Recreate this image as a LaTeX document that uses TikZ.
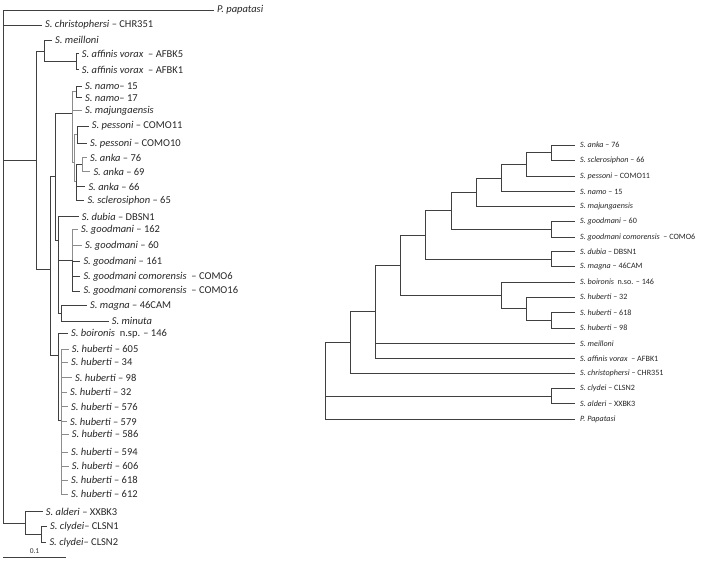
\documentclass[tikz,border=0pt]{standalone}
\usepackage{fontspec}
\setmainfont{Carlito}
\begin{document}
\begin{tikzpicture}[x=1pt, y=-1pt,
  br/.style={draw=black!75, line width=0.7pt},
  brg/.style={draw=black!45, line width=1pt},
  leaf/.style={anchor=west, inner xsep=3pt, inner ysep=1pt, text=black!85, font=\fontsize{10.5}{11}\selectfont},
  rleaf/.style={anchor=west, inner xsep=5pt, inner ysep=1pt, text=black!85, font=\fontsize{8.1}{9}\selectfont}]
  \useasboundingbox (0,0) rectangle (701,561);

  % Left tree: leaves
  \node[leaf] (pap) at (214,10) {\textit{P. papatasi}};
  \node[leaf] (chr) at (42,25) {\textit{S. christophersi} -- CHR351};
  \node[leaf] (mei) at (52,40) {\textit{S. meilloni}};
  \node[leaf] (afb5) at (78.7,53.5) {\textit{S. affinis vorax}~~-- AFBK5};
  \node[leaf] (afb1) at (78.7,69.5) {\textit{S. affinis vorax}~~-- AFBK1};
  \node[leaf] (nam15) at (82,86.5) {\textit{S. namo}-- 15};
  \node[leaf] (nam17) at (82,97.7) {\textit{S. namo}-- 17};
  \node[leaf] (maj) at (82,111) {\textit{S. majungaensis}};
  \node[leaf] (pes11) at (88.7,126) {\textit{S. pessoni} -- COMO11};
  \node[leaf] (pes10) at (87,143.3) {\textit{S. pessoni} -- COMO10};
  \node[leaf] (ank76) at (87,157.7) {\textit{S. anka} -- 76};
  \node[leaf] (ank69) at (90.3,171.7) {\textit{S. anka} -- 69};
  \node[leaf] (ank66) at (85.3,186.7) {\textit{S. anka} -- 66};
  \node[leaf] (scl65) at (84.3,200.7) {\textit{S. sclerosiphon} -- 65};
  \node[leaf] (dub) at (78.7,216.7) {\textit{S. dubia} -- DBSN1};
  \node[leaf] (goo162) at (78,229.3) {\textit{S. goodmani} -- 162};
  \node[leaf] (goo60) at (82,245.7) {\textit{S. goodmani} -- 60};
  \node[leaf] (goo161) at (80.3,261.7) {\textit{S. goodmani} -- 161};
  \node[leaf] (com6) at (80.3,276.7) {\textit{S. goodmani comorensis}~~-- COMO6};
  \node[leaf] (com16) at (80.3,291) {\textit{S. goodmani comorensis}~~-- COMO16};
  \node[leaf] (mag) at (87,305.7) {\textit{S. magna} -- 46CAM};
  \node[leaf] (min) at (108.7,321) {\textit{S. minuta}};
  \node[leaf] (boi) at (68,333.3) {\textit{S. boironis}~~n.sp. -- 146};
  \node[leaf] (hub605) at (68.7,349) {\textit{S. huberti} -- 605};
  \node[leaf] (hub34) at (68,362.3) {\textit{S. huberti} -- 34};
  \node[leaf] (hub98) at (72,377.7) {\textit{S. huberti} -- 98};
  \node[leaf] (hub32) at (67,392.3) {\textit{S. huberti} -- 32};
  \node[leaf] (hub576) at (68,406.7) {\textit{S. huberti} -- 576};
  \node[leaf] (hub579) at (67,421.7) {\textit{S. huberti} -- 579};
  \node[leaf] (hub586) at (68.7,434.3) {\textit{S. huberti} -- 586};
  \node[leaf] (hub594) at (68,452.3) {\textit{S. huberti} -- 594};
  \node[leaf] (hub606) at (68.7,466) {\textit{S. huberti} -- 606};
  \node[leaf] (hub618) at (68,480) {\textit{S. huberti} -- 618};
  \node[leaf] (hub612) at (68,494) {\textit{S. huberti} -- 612};
  \node[leaf] (ald) at (42.7,511.7) {\textit{S. alderi} -- XXBK3};
  \node[leaf] (cly1) at (47,526.7) {\textit{S. clydei}-- CLSN1};
  \node[leaf] (cly2) at (46.3,542.3) {\textit{S. clydei}-- CLSN2};

  % Left tree: inner nodes
  \coordinate (lR) at (3.3,268);
  \coordinate (lA) at (36.7,160);
  \coordinate (lB) at (44.3,51.7);
  \coordinate (lAF) at (76,61.7);
  \coordinate (lC) at (50,269.3);
  \coordinate (lD) at (55,176.7);
  \coordinate (lF) at (72.7,113.3);
  \coordinate (lN) at (76,92);
  \coordinate (lP) at (74.5,163);
  \coordinate (lPe) at (77,134.7);
  \coordinate (lAn) at (76.7,182);
  \coordinate (lAk) at (82,164.7);
  \coordinate (lG) at (58.3,240);
  \coordinate (lGo) at (72.7,260);
  \coordinate (lMM) at (61.7,313);
  \coordinate (lE) at (58.3,355);
  \coordinate (lHu) at (61.7,420);
  \coordinate (lH) at (25,523.3);
  \coordinate (lCl) at (41,534.5);

  % Left tree: branches
  \draw[br] (lR) |- (pap.west);
  \draw[br] (lR) |- (chr.west);
  \draw[br] (lR) |- (lA);
  \draw[br] (lR) |- (lH);
  \draw[br] (lA) |- (lB);
  \draw[br] (lA) |- (lC);
  \draw[br] (lB) |- (mei.west);
  \draw[br] (lB) |- (lAF);
  \draw[br] (lAF) |- (afb5.west);
  \draw[br] (lAF) |- (afb1.west);
  \draw[br] (lC) |- (lD);
  \draw[br] (lC) |- (lE);
  \draw[br] (lD) |- (lF);
  \draw[br] (lD) |- (lG);
  \draw[brg] (lF) |- (lN);
  \draw[brg] (lF) |- (maj.west);
  \draw[brg] (lF) |- (lP);
  \draw[br] (lN) |- (nam15.west);
  \draw[br] (lN) |- (nam17.west);
  \draw[brg] (lP) |- (lPe);
  \draw[brg] (lP) |- (lAn);
  \draw[br] (lPe) |- (pes11.west);
  \draw[br] (lPe) |- (pes10.west);
  \draw[br] (lAn) |- (lAk);
  \draw[br] (lAn) |- (ank66.west);
  \draw[br] (lAn) |- (scl65.west);
  \draw[brg] (lAk) |- (ank76.west);
  \draw[brg] (lAk) |- (ank69.west);
  \draw[br] (lG) |- (dub.west);
  \draw[br] (lG) |- (lGo);
  \draw[br] (lG) |- (lMM);
  \draw[brg] (lGo) |- (goo162.west);
  \draw[brg] (lGo) |- (goo60.west);
  \draw[br] (lGo) |- (goo161.west);
  \draw[br] (lGo) |- (com6.west);
  \draw[br] (lGo) |- (com16.west);
  \draw[br] (lMM) |- (mag.west);
  \draw[br] (lMM) |- (min.west);
  \draw[br] (lE) |- (boi.west);
  \draw[br] (lE) |- (lHu);
  \foreach \h in {hub605,hub34,hub98,hub32,hub576,hub579,hub586,hub594,hub606,hub618,hub612}
    \draw[brg] (lHu) |- (\h.west);
  \draw[br] (lH) |- (ald.west);
  \draw[br] (lH) |- (lCl);
  \draw[br] (lCl) |- (cly1.west);
  \draw[br] (lCl) |- (cly2.west);

  % Scale bar
  \coordinate (sb1) at (3.3,557.7);
  \coordinate (sb2) at (65.7,557.7);
  \draw[br] (sb1) -- node[above=0.5pt, font=\fontsize{7.5}{8}\selectfont, text=black!80] {0.1} (sb2);

  % Right tree: leaves
  \node[rleaf] (ra76) at (575,145) {\textit{S. anka} -- 76};
  \node[rleaf] (rs66) at (575,160.5) {\textit{S. sclerosiphon} -- 66};
  \node[rleaf] (rp11) at (575,176) {\textit{S. pessoni} -- COMO11};
  \node[rleaf] (rn15) at (575,191.5) {\textit{S. namo} -- 15};
  \node[rleaf] (rmaj) at (575,206) {\textit{S. majungaensis}};
  \node[rleaf] (rg60) at (575,221.5) {\textit{S. goodmani} -- 60};
  \node[rleaf] (rc6) at (575,237) {\textit{S. goodmani comorensis}~~-- COMO6};
  \node[rleaf] (rdub) at (575,251.5) {\textit{S. dubia} -- DBSN1};
  \node[rleaf] (rmag) at (575,266.5) {\textit{S. magna} -- 46CAM};
  \node[rleaf] (rboi) at (575,282) {\textit{S. boironis}~~n.so. -- 146};
  \node[rleaf] (rh32) at (575,297) {\textit{S. huberti} -- 32};
  \node[rleaf] (rh618) at (575,312.5) {\textit{S. huberti} -- 618};
  \node[rleaf] (rh98) at (575,328) {\textit{S. huberti} -- 98};
  \node[rleaf] (rmei) at (575,343.5) {\textit{S. meilloni}};
  \node[rleaf] (raf1) at (575,358.5) {\textit{S. affinis vorax}~~-- AFBK1};
  \node[rleaf] (rchr) at (575,373.5) {\textit{S. christophersi} -- CHR351};
  \node[rleaf] (rcly) at (575,388.5) {\textit{S. clydei} -- CLSN2};
  \node[rleaf] (rald) at (575,403.5) {\textit{S. alderi} -- XXBK3};
  \node[rleaf] (rpap) at (575,419) {\textit{P. Papatasi}};

  % Right tree: inner nodes
  \coordinate (r1) at (551.7,152.7);
  \coordinate (r2) at (526.7,164.3);
  \coordinate (r3) at (501.7,177.9);
  \coordinate (r4) at (476,192);
  \coordinate (r5) at (451.7,210.6);
  \coordinate (r6) at (551.7,229.2);
  \coordinate (r7) at (425.7,234.9);
  \coordinate (r8) at (551.7,259);
  \coordinate (r9) at (400.7,265);
  \coordinate (r10) at (501.7,295);
  \coordinate (r11) at (526.7,308.6);
  \coordinate (r12) at (551.7,320.2);
  \coordinate (r13) at (375.7,311.7);
  \coordinate (r14) at (350,342.6);
  \coordinate (r15) at (325,380.8);
  \coordinate (r16) at (551.7,396);

  % Right tree: branches
  \draw[br] (r15) |- (r14);
  \draw[br] (r15) |- (r16);
  \draw[br] (r15) |- (rpap.west);
  \draw[br] (r14) |- (r13);
  \draw[br] (r14) |- (rchr.west);
  \draw[br] (r13) |- (r9);
  \draw[br] (r13) |- (rmei.west);
  \draw[br] (r13) |- (raf1.west);
  \draw[br] (r9) |- (r7);
  \draw[br] (r9) |- (r10);
  \draw[br] (r7) |- (r5);
  \draw[br] (r7) |- (r8);
  \draw[br] (r5) |- (r4);
  \draw[br] (r5) |- (r6);
  \draw[br] (r4) |- (r3);
  \draw[br] (r4) |- (rmaj.west);
  \draw[br] (r3) |- (r2);
  \draw[br] (r3) |- (rn15.west);
  \draw[br] (r2) |- (r1);
  \draw[br] (r2) |- (rp11.west);
  \draw[br] (r1) |- (ra76.west);
  \draw[br] (r1) |- (rs66.west);
  \draw[br] (r6) |- (rg60.west);
  \draw[br] (r6) |- (rc6.west);
  \draw[br] (r8) |- (rdub.west);
  \draw[br] (r8) |- (rmag.west);
  \draw[br] (r10) |- (rboi.west);
  \draw[br] (r10) |- (r11);
  \draw[br] (r11) |- (rh32.west);
  \draw[br] (r11) |- (r12);
  \draw[br] (r12) |- (rh618.west);
  \draw[br] (r12) |- (rh98.west);
  \draw[br] (r16) |- (rcly.west);
  \draw[br] (r16) |- (rald.west);
\end{tikzpicture}
\end{document}
